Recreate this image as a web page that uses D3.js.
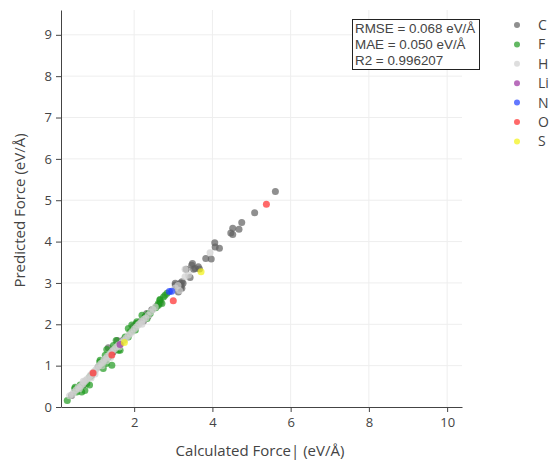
<!DOCTYPE html>
<html>
<head>
<meta charset="utf-8">
<script src="https://cdn.jsdelivr.net/npm/d3@7"></script>
<style>
  body { margin: 0; background: #fff; }
  svg { font-family: "Open Sans", sans-serif; }
</style>
</head>
<body>
<svg id="chart" width="552" height="461"></svg>
<script>
// element names and colours for the legend
var elements = ["C", "F", "H", "Li", "N", "O", "S"];
var colors = ["#606060", "#1f9a1f", "#d0d0d0", "#9b30a0", "#1f3fff", "#ff2a2a", "#f2f20f"];

// [calculated, predicted] per element
var pointsC = [[5.61,5.21],[5.08,4.70],[4.75,4.46],[4.68,4.30],[4.52,4.32],[4.47,4.21],[4.52,4.17],
  [4.06,3.97],[4.18,3.84],[4.07,3.87],[3.83,3.59],[3.97,3.58],[3.49,3.47],[3.33,3.33],[3.56,3.35],
  [3.67,3.34],[3.43,3.13],[3.25,2.99],[3.18,2.87],[3.22,3.03],[3.13,2.95],[3.05,2.99],[3.09,2.91],
  [3.18,2.99],[3.22,2.87],[3.13,2.78],[3.05,2.95],[3.47,3.43],[3.64,3.39],[3.52,3.33],[3.20,2.93],
  [2.67,2.52],[2.58,2.44],[2.32,2.26],[2.28,2.18],[2.36,2.20],[2.15,2.06],[2.24,2.08],[2.05,2.02],
  [1.98,1.95],[1.72,1.62],[1.57,1.61],[1.34,1.43],[1.46,1.33],[1.25,1.13],[0.91,0.77],[0.70,0.53],
  [0.40,0.28],[1.08,0.97],[2.45,2.35]];
var pointsF = [[0.29,0.16],[0.49,0.48],[0.53,0.36],[0.66,0.36],[0.62,0.53],[0.79,0.57],[0.86,0.53],
  [0.87,0.73],[1.13,1.13],[1.17,1.01],[1.43,1.01],[1.34,1.21],[1.30,1.39],[1.60,1.37],[1.54,1.61],
  [1.85,1.90],[2.07,2.06],[2.37,2.26],[2.33,2.14],[2.62,2.50],[2.66,2.60],[2.75,2.66],[2.79,2.70],
  [2.84,2.75],[1.94,1.98],[2.03,1.86],[2.28,2.18],[2.20,2.22],[1.47,1.49],[1.77,1.69],[1.64,1.37],
  [1.26,1.25],[2.66,2.58],[2.71,2.50],[2.62,2.46],[2.41,2.26],[2.07,2.02],[1.98,1.86],[0.74,0.40],
  [0.61,0.48],[1.21,0.93],[1.29,1.05],[1.55,1.41],[1.85,1.69],[1.12,1.09],[0.48,0.44],[1.90,1.82],
  [2.55,2.40]];
var pointsH = [[0.35,0.27],[0.42,0.31],[0.46,0.36],[0.52,0.42],[0.57,0.47],[0.63,0.50],[0.68,0.55],
  [0.72,0.60],[0.76,0.64],[0.80,0.68],[0.85,0.72],[0.88,0.77],[0.93,0.82],[0.98,0.86],[1.02,0.90],
  [1.06,0.95],[1.10,1.00],[1.15,1.05],[1.20,1.08],[1.23,1.14],[1.28,1.18],[1.32,1.23],[1.37,1.27],
  [1.41,1.31],[1.45,1.36],[1.50,1.40],[1.55,1.45],[1.60,1.50],[1.66,1.53],[1.70,1.58],[1.75,1.62],
  [1.80,1.67],[1.85,1.73],[1.90,1.77],[1.95,1.82],[2.00,1.88],[2.05,1.93],[2.10,1.98],[2.14,2.02],
  [2.19,2.07],[2.25,2.12],[2.30,2.15],[2.36,2.22],[2.42,2.30],[2.48,2.36],[2.54,2.42],[3.05,2.88],
  [3.12,2.94],[3.16,2.82],[3.30,3.15],[3.39,3.19],[3.94,3.73],[1.00,0.80],[1.18,1.00],[0.70,0.62],
  [1.40,1.20],[1.62,1.45],[0.60,0.44],[0.90,0.70],[1.30,1.12],[2.20,2.00],[3.30,3.33]];
var pointsLi = [[1.64,1.51]];
var pointsN = [[2.96,2.80],[2.90,2.79]];
var pointsO = [[0.95,0.82],[1.43,1.26],[3.00,2.57],[5.38,4.90]];
var pointsS = [[1.75,1.56],[3.71,3.27]];

var series = [pointsC, pointsF, pointsH, pointsLi, pointsN, pointsO, pointsS];

var xTicks = [2, 4, 6, 8, 10];
var yTicks = [0, 1, 2, 3, 4, 5, 6, 7, 8, 9];
var statLines = ["RMSE = 0.068 eV/Å", "MAE = 0.050 eV/Å", "R2 = 0.996207"];

var svg = d3.select("#chart");

var plotLeft = 61, plotRight = 462, plotTop = 10, plotBottom = 407;

var x = d3.scaleLinear().domain([0.13, 10.38]).range([plotLeft, plotRight]);
var y = d3.scaleLinear().domain([0, 9.6]).range([plotBottom, plotTop]);

// grid lines
svg.append("g")
    .selectAll("line")
    .data(xTicks)
    .enter()
    .append("line")
    .attr("x1", function(d) { return x(d); })
    .attr("x2", function(d) { return x(d); })
    .attr("y1", plotTop)
    .attr("y2", plotBottom)
    .attr("stroke", "#eee");

svg.append("g")
    .selectAll("line")
    .data(yTicks.filter(function(d) { return d > 0; }))
    .enter()
    .append("line")
    .attr("x1", plotLeft)
    .attr("x2", plotRight)
    .attr("y1", function(d) { return y(d); })
    .attr("y2", function(d) { return y(d); })
    .attr("stroke", "#eee");

// the markers
series.forEach(function(pts, i) {
    svg.append("g")
        .selectAll("circle")
        .data(pts)
        .enter()
        .append("circle")
        .attr("cx", function(d) { return x(d[0]); })
        .attr("cy", function(d) { return y(d[1]); })
        .attr("r", 3.5)
        .attr("fill", colors[i])
        .attr("opacity", 0.7);
});

// axes
var xAxis = svg.append("g")
    .attr("transform", "translate(0," + plotBottom + ")")
    .call(d3.axisBottom(x).tickValues(xTicks).tickSize(5).tickSizeOuter(0).tickPadding(6));

var yAxis = svg.append("g")
    .attr("transform", "translate(" + plotLeft + ",0)")
    .call(d3.axisLeft(y).tickValues(yTicks).tickSize(5).tickSizeOuter(0).tickPadding(4));

[xAxis, yAxis].forEach(function(a) {
    a.select(".domain").attr("stroke", "#444");
    a.selectAll(".tick line").attr("stroke", "#444");
    a.selectAll(".tick text")
        .attr("fill", "#444")
        .attr("font-size", "13px")
        .attr("font-family", "Open Sans, sans-serif");
});

// axis titles
svg.append("text")
    .attr("x", 260)
    .attr("y", 456)
    .attr("text-anchor", "middle")
    .attr("font-size", "15px")
    .attr("fill", "#444")
    .text("Calculated Force| (eV/Å)");

svg.append("text")
    .attr("transform", "translate(25," + ((plotTop + plotBottom) / 2 + 2) + ") rotate(-90)")
    .attr("text-anchor", "middle")
    .attr("font-size", "15px")
    .attr("fill", "#444")
    .text("Predicted Force (eV/Å)");

// stats box
var box = svg.append("g");
box.append("rect")
    .attr("x", 352.5)
    .attr("y", 19.5)
    .attr("width", 127)
    .attr("height", 50)
    .attr("fill", "#fff")
    .attr("stroke", "#222")
    .attr("stroke-width", 1);

box.selectAll("text")
    .data(statLines)
    .enter()
    .append("text")
    .attr("x", 355)
    .attr("y", function(d, i) { return 33 + i * 16; })
    .attr("font-family", "Liberation Sans, Arial, sans-serif")
    .attr("font-size", "13.4px")
    .attr("fill", "#444")
    .text(function(d) { return d; });

// legend
var legend = svg.append("g");
var item = legend.selectAll("g")
    .data(elements)
    .enter()
    .append("g")
    .attr("transform", function(d, i) { return "translate(517," + (25 + i * 19.4) + ")"; });

item.append("circle")
    .attr("r", 3)
    .attr("fill", function(d, i) { return colors[i]; })
    .attr("opacity", 0.7);

item.append("text")
    .attr("x", 21)
    .attr("y", 5)
    .attr("font-size", "14px")
    .attr("fill", "#444")
    .text(function(d) { return d; });
</script>
</body>
</html>
